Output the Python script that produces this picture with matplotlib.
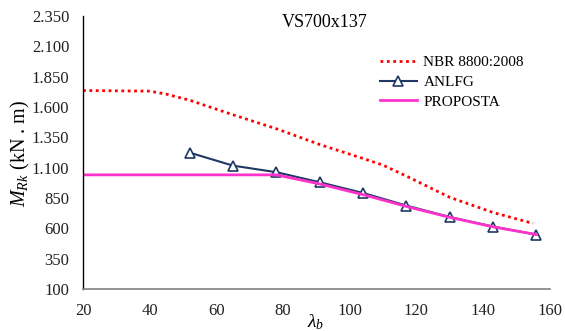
import matplotlib
matplotlib.use("Agg")
import matplotlib.pyplot as plt
from matplotlib.ticker import FuncFormatter

plt.rcParams['font.family'] = ['Liberation Serif', 'DejaVu Serif']
plt.rcParams['mathtext.fontset'] = 'custom'
plt.rcParams['mathtext.rm'] = 'Liberation Serif'
plt.rcParams['mathtext.it'] = 'Liberation Serif:italic'

title = "VS700x137"

# NBR 8800:2008 curve
nbr_lambda = [20, 40, 45, 52, 65, 78, 91, 104, 110, 117, 130, 143, 155]
nbr_moment = [1735, 1730, 1705, 1655, 1535, 1420, 1290, 1175, 1120, 1030, 855, 730, 640]

# ANLFG numerical results
anlfg_lambda = [52, 65, 78, 91, 104, 117, 130, 143, 156]
anlfg_moment = [1223, 1116, 1062, 979, 891, 787, 693, 614, 548]

# Proposed formulation
prop_lambda = [20, 78, 91, 104, 117, 130, 143, 156]
prop_moment = [1040, 1040, 965, 877, 780, 690, 612, 548]

x_ticks = [20, 40, 60, 80, 100, 120, 140, 160]
y_ticks = [100, 350, 600, 850, 1100, 1350, 1600, 1850, 2100, 2350]

fig = plt.figure(figsize=(5.65, 3.31), dpi=100)
ax = fig.add_axes([0.147, 0.127, 0.826, 0.825])

ax.plot(nbr_lambda, nbr_moment, color='#FF0000', lw=2.0,
        linestyle=(0, (1, 1.3)), label='NBR 8800:2008')
ax.plot(anlfg_lambda, anlfg_moment, color='#1F3864', lw=1.5,
        marker='^', markersize=6.5, markerfacecolor='white',
        markeredgecolor='#1F3864', markeredgewidth=1.2, label='ANLFG')
ax.plot(prop_lambda, prop_moment, color='#FF33CC', lw=2.0, label='PROPOSTA')

ax.set_xlim(20, 160)
ax.set_ylim(100, 2350)
ax.set_xticks(x_ticks)
ax.set_yticks(y_ticks)
ax.yaxis.set_major_formatter(FuncFormatter(lambda v, p: f"{int(v):,}".replace(",", ".")))
ax.tick_params(axis='both', length=0, labelsize=12, colors='#222222')
ax.tick_params(axis='x', pad=10)
ax.tick_params(axis='y', pad=10)

for s in ('top', 'right'):
    ax.spines[s].set_visible(False)
ax.spines['left'].set_color('#000000')
ax.spines['bottom'].set_color('#808080')
ax.spines['left'].set_linewidth(1.0)
ax.spines['bottom'].set_linewidth(1.2)

ax.text(0.518, 0.975, title, transform=ax.transAxes, ha='center', va='center', fontsize=13)

fig.text(0.037, 0.538, r'$M_{Rk}$ (kN . m)', rotation=90, ha='center', va='center',
         fontsize=14.5)
fig.text(0.559, 0.027, r'$\lambda_b$', ha='center', va='center', fontsize=14)

leg = ax.legend(loc='upper left', bbox_to_anchor=(0.636, 0.855), frameon=False,
                fontsize=11, handlelength=2.4, handletextpad=0.45,
                labelspacing=0.4, borderaxespad=0, borderpad=0)

fig.savefig('out.png', dpi=100)
